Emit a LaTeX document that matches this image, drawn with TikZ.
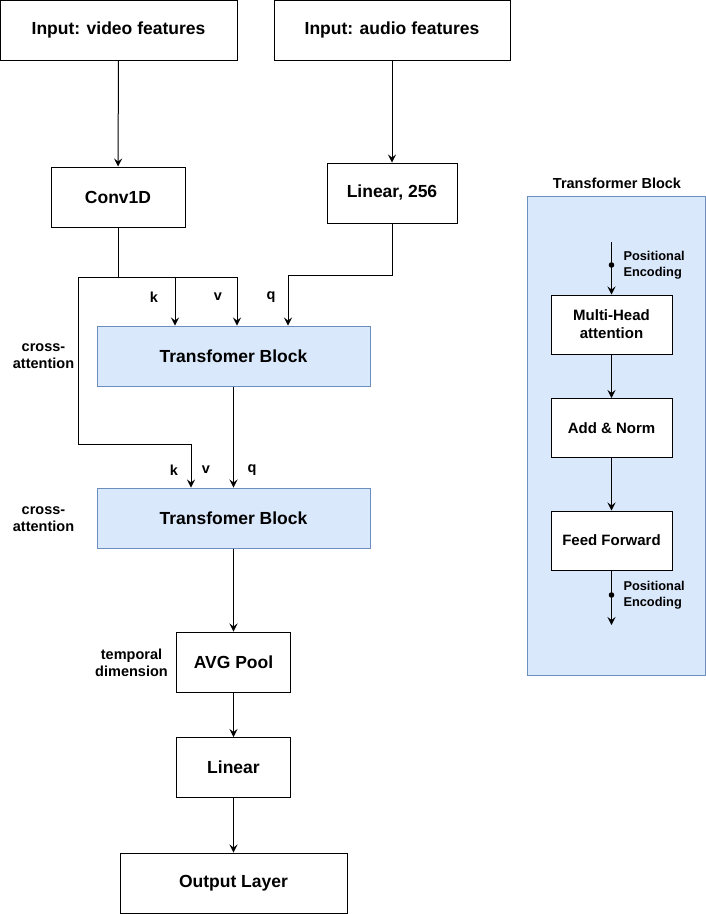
\documentclass[tikz,border=0pt]{standalone}
\usepackage{fontspec}
\setmainfont{Liberation Sans}
\usetikzlibrary{arrows.meta}
\usetikzlibrary{positioning}
\definecolor{tbfill}{HTML}{DAE8FC}
\definecolor{tbline}{HTML}{6C8EBF}
\begin{document}
\begin{tikzpicture}[x=1pt,y=-1pt,line width=1pt,>={Stealth[length=8pt,width=8pt,inset=3pt]},
    box/.style={draw,minimum height=60pt,inner sep=2pt,font=\fontsize{17.5}{21}\selectfont\bfseries},
    tbbox/.style={box,fill=tbfill,draw=tbline,minimum width=273pt},
    inbox/.style={draw,fill=white,minimum width=121pt,minimum height=59pt,align=center,
      font=\fontsize{15}{18}\selectfont\bfseries},
    lbl/.style={inner sep=0pt,font=\fontsize{14.5}{17}\selectfont\bfseries,align=center},
    pelbl/.style={inner sep=0pt,anchor=west,align=left,font=\fontsize{12.8}{16}\selectfont\bfseries}]
     \useasboundingbox (0,0) rectangle (706,914);

     % Hauptpfad
     \node[box,minimum width=237pt] (video) at (118.5,30) {Input: video features};
     \node[box,minimum width=236pt] (audio) at (392,30) {Input: audio features};
     \node[box,minimum width=134pt] (conv) at (118,197) {Conv1D};
     \node[box,minimum width=130pt] (lin256) at (392,193) {Linear, 256};
     \node[tbbox] (tb1) at (233.5,356) {Transfomer Block};
     \node[tbbox] (tb2) at (233.5,518) {Transfomer Block};
     \node[box,minimum width=114pt] (pool) at (233.5,662) {AVG Pool};
     \node[box,minimum width=114pt] (lin) at (233.5,767.5) {Linear};
     \node[box,minimum width=227pt] (out) at (233.5,883) {Output Layer};

     \draw[->] (video) -- (conv);
     \draw[->] (audio) -- (lin256);

     \coordinate (split) at (118,277);
     \coordinate (bend) at (78,444);
     \draw (conv.south) -- (split);
     \draw[->] (split) -| ([xshift=-58.5pt]tb1.north);
     \draw[->] (split) -| ([xshift=3.5pt]tb1.north);
     \draw[->] (split) -| (bend) -| ([xshift=-42.5pt]tb2.north);
     \draw[->] (lin256.south) -- ++(0,52) -| ([xshift=54.5pt]tb1.north);
     \draw[->] (tb1) -- (tb2);
     \draw[->] (tb2) -- (pool);
     \draw[->] (pool) -- (lin);
     \draw[->] (lin) -- (out);

     \node[lbl] (k1) at (154,297) {k};
     \node[lbl] (v1) at (218,297) {v};
     \node[lbl] (q1) at (271,297) {q};
     \node[lbl] (k2) at (174,470) {k};
     \node[lbl] (v2) at (206,470) {v};
     \node[lbl] (q2) at (252,470) {q};
     \node[lbl] (ca1) at (43.5,356.5) {cross-\\attention};
     \node[lbl] (ca2) at (43.5,519) {cross-\\attention};
     \node[lbl] (temp) at (131.5,662.5) {temporal\\dimension};

     % Transformer Block (Detail)
     \node[draw=tbline,fill=tbfill,minimum width=178pt,minimum height=479pt] (panel) at (616,435.5) {};
     \node[lbl] (title) at (617,183) {Transformer Block};
     \node[inbox] (mha) at (611.5,324.5) {Multi-Head\\attention};
     \node[inbox] (addnorm) at (611.5,428) {Add \& Norm};
     \node[inbox] (ff) at (611.5,540.5) {Feed Forward};

     \coordinate (pein) at (611.5,242);
     \coordinate (peout) at (611.5,625);
     \draw[->] (pein) -- (mha);
     \draw[->] (mha) -- (addnorm);
     \draw[->] (addnorm) -- (ff);
     \draw[->] (ff) -- (peout);
     \fill (611.5,265) circle[radius=2.8pt];
     \fill (611.5,595) circle[radius=2.8pt];
     \node[pelbl] (pe1) at (623,265) {Positional\\Encoding};
     \node[pelbl] (pe2) at (623,595) {Positional\\Encoding};

\end{tikzpicture}
\end{document}
